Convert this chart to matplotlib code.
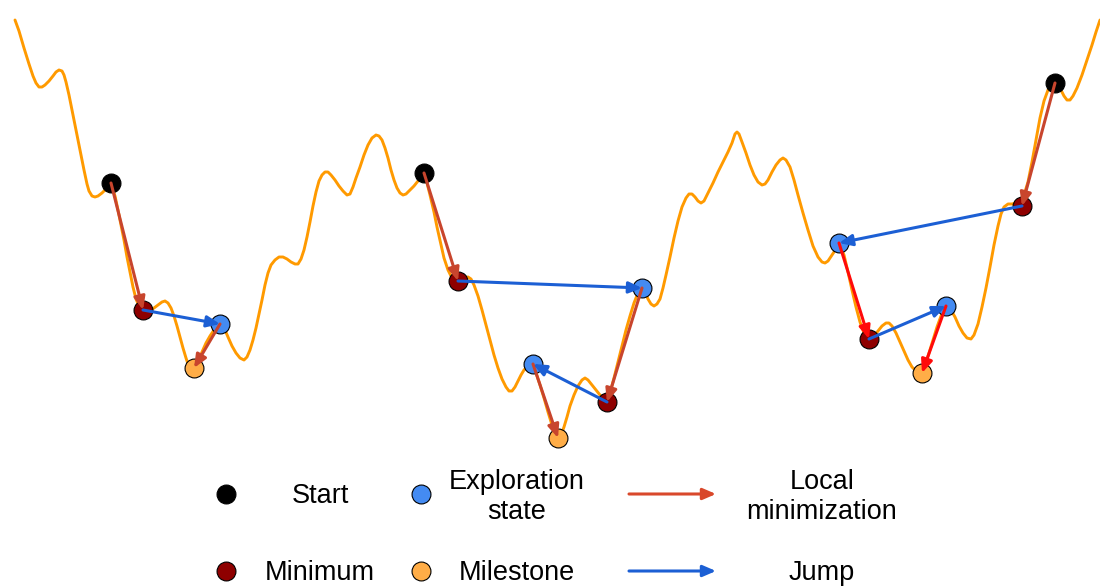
import matplotlib
matplotlib.use('Agg')
import matplotlib.pyplot as plt

plt.rcParams['font.family'] = ['Liberation Sans', 'DejaVu Sans']

# energy landscape (x right, y down, pixel units)
curve_x = [15, 19, 24, 29, 33, 36, 39, 42, 45, 49, 53, 56, 59, 62, 64, 66, 69, 72, 76, 80,
           84, 87, 89, 92, 95, 98, 102, 106, 109, 112, 115, 118, 121, 124, 127, 130, 133,
           136, 139, 142, 146, 150, 154, 158, 162, 165, 168, 171, 174, 177, 180, 183, 186,
           188, 190, 192, 195, 198, 202, 206, 210, 214, 218, 222, 225, 228, 232, 236, 240,
           244, 247, 250, 253, 256, 259, 262, 265, 268, 271, 275, 279, 283, 287, 291, 295,
           298, 301, 304, 307, 310, 313, 316, 319, 322, 325, 328, 331, 335, 339, 343, 347,
           350, 353, 356, 360, 364, 368, 372, 376, 379, 382, 385, 388, 391, 394, 397, 400,
           403, 406, 410, 414, 418, 421, 424, 427, 430, 434, 437, 441, 444, 448, 452, 456,
           460, 464, 468, 471, 474, 478, 482, 486, 490, 494, 498, 502, 506, 509, 512, 515,
           518, 521, 524, 527, 530, 533, 536, 540, 544, 548, 552, 555, 558, 561, 564, 567,
           570, 574, 578, 582, 585, 588, 592, 596, 600, 604, 607, 610, 614, 618, 622, 626,
           630, 634, 638, 642, 645, 648, 651, 654, 657, 660, 663, 666, 670, 674, 678, 682,
           686, 689, 692, 695, 698, 701, 704, 708, 713, 718, 723, 728, 732, 735, 737, 739,
           742, 746, 750, 754, 758, 762, 765, 768, 772, 776, 780, 783, 786, 790, 794, 798,
           803, 808, 813, 818, 822, 825, 828, 832, 836, 840, 844, 848, 852, 856, 860, 864,
           867, 870, 874, 878, 882, 886, 889, 892, 896, 900, 904, 908, 912, 916, 919, 922,
           925, 929, 933, 937, 941, 945, 948, 951, 955, 959, 963, 967, 971, 974, 978, 982,
           986, 990, 994, 998, 1001, 1004, 1008, 1012, 1016, 1020, 1024, 1028, 1032, 1036,
           1040, 1044, 1048, 1052, 1056, 1060, 1064, 1067, 1070, 1073, 1077, 1082, 1087,
           1092, 1096, 1100]
curve_y = [20, 31, 48, 64, 76, 83, 87, 87, 85, 81, 76, 72, 70, 71, 75, 82, 95, 110, 130, 150,
           170, 184, 191, 196, 197, 196, 193, 189, 186, 187, 196, 210, 225, 240, 257, 272, 287,
           299, 306, 310, 311, 310, 308, 305, 302, 301, 303, 308, 316, 326, 337, 348, 358,
           364, 368, 370, 369, 362, 352, 343, 336, 330, 326, 326, 330, 337, 346, 353, 358,
           360, 357, 350, 340, 328, 314, 300, 285, 273, 265, 260, 257, 257, 259, 262, 264,
           264, 259, 250, 237, 222, 206, 192, 181, 175, 172, 172, 175, 180, 186, 191, 195,
           194, 187, 178, 167, 155, 145, 138, 135, 136, 140, 148, 158, 170, 180, 188, 193,
           195, 194, 190, 186, 181, 178, 177, 183, 195, 212, 227, 245, 258, 270, 278, 281,
           280, 278, 277, 279, 285, 296, 310, 325, 340, 355, 368, 379, 387, 391, 391, 387,
           381, 375, 370, 367, 366, 367, 373, 385, 398, 412, 425, 433, 437, 435, 427, 417,
           406, 395, 386, 380, 378, 380, 385, 390, 395, 399, 400, 393, 378, 362, 346, 330,
           316, 303, 293, 289, 292, 299, 304, 306, 304, 299, 288, 275, 257, 238, 221, 207,
           198, 194, 194, 197, 201, 203, 201, 193, 183, 172, 162, 152, 143, 134, 132, 134,
           142, 153, 165, 175, 182, 185, 184, 180, 172, 165, 160, 158, 160, 167, 180, 195,
           213, 230, 246, 257, 262, 263, 261, 255, 249, 245, 255, 272, 290, 307, 322, 333,
           338, 339, 336, 331, 326, 323, 323, 326, 333, 342, 351, 360, 367, 371, 373, 372,
           366, 353, 340, 327, 316, 309, 307, 310, 317, 326, 333, 338, 339, 335, 324, 307,
           288, 267, 245, 226, 214, 207, 204, 204, 203, 201, 195, 182, 162, 140,
           118, 101, 90, 85, 84, 88, 96, 100, 100, 96, 88, 75, 60,
           45, 32, 20]

# states
start_x = [111, 424, 1055]
start_y = [183, 173, 83]
min_x = [143, 458, 607, 869, 1022]
min_y = [310, 281, 402, 339, 206]
expl_x = [220, 533, 642, 839, 946]
expl_y = [324, 364, 288, 243, 306]
mile_x = [194, 558, 922]
mile_y = [368, 438, 373]

# moves: (x0, y0, x1, y1)
local_moves = [(111, 183, 143, 310), (220, 324, 194, 368), (424, 173, 458, 281),
               (533, 364, 558, 438), (642, 288, 607, 402), (1055, 83, 1022, 206)]
local_moves_bright = [(839, 243, 869, 339), (946, 306, 922, 373)]
jumps = [(143, 310, 220, 324), (458, 281, 642, 288), (607, 402, 533, 364),
         (1022, 206, 839, 243), (869, 339, 946, 306)]

c_curve = '#ff9a00'
c_start = 'black'
c_min = '#8e0000'
c_expl = '#448bf2'
c_mile = '#ffad47'
c_local = '#c8452d'
c_local2 = '#ff0a0a'
c_jump = '#1c5fd4'

fig = plt.figure(figsize=(11, 5.86), dpi=100)
ax = fig.add_axes([0, 0, 1, 1])
ax.set_xlim(0, 1100)
ax.set_ylim(586, 0)
ax.axis('off')

ax.plot(curve_x, curve_y, color=c_curve, lw=2.1, zorder=1,
        solid_capstyle='round', solid_joinstyle='round')

ms = 185
ax.scatter(start_x, start_y, s=ms, color=c_start, edgecolor='black', linewidth=0.8, zorder=3)
ax.scatter(min_x, min_y, s=ms, color=c_min, edgecolor='black', linewidth=0.8, zorder=3)
ax.scatter(expl_x, expl_y, s=ms, color=c_expl, edgecolor='black', linewidth=0.8, zorder=3)
ax.scatter(mile_x, mile_y, s=ms, color=c_mile, edgecolor='black', linewidth=0.8, zorder=3)

astyle = '-|>,head_length=0.65,head_width=0.28'


def arrow(x0, y0, x1, y1, col):
    ax.annotate('', xy=(x1, y1), xytext=(x0, y0), zorder=4,
                arrowprops=dict(arrowstyle=astyle, color=col, lw=2.2,
                                mutation_scale=12, shrinkA=0, shrinkB=0))


for m in local_moves:
    arrow(*m, c_local)
for m in local_moves_bright:
    arrow(*m, c_local2)
for m in jumps:
    arrow(*m, c_jump)

# legend
fs = 19.5
row1, row2 = 494, 571
ax.scatter([226], [row1], s=ms, color=c_start, edgecolor='black', linewidth=0.8)
ax.text(320, row1 + 2, 'Start', fontsize=fs, ha='center', va='center')
ax.scatter([421], [row1], s=ms, color=c_expl, edgecolor='black', linewidth=0.8)
ax.text(517, row1 + 3, 'Exploration\nstate', fontsize=fs, ha='center', va='center')
arrow(629, row1, 716, row1, '#d9482b')
ax.text(822, row1 + 3, 'Local\nminimization', fontsize=fs, ha='center', va='center')

ax.scatter([226], [row2], s=ms, color=c_min, edgecolor='black', linewidth=0.8)
ax.text(320, row2 + 2, 'Minimum', fontsize=fs, ha='center', va='center')
ax.scatter([421], [row2], s=ms, color=c_mile, edgecolor='black', linewidth=0.8)
ax.text(517, row2 + 2, 'Milestone', fontsize=fs, ha='center', va='center')
arrow(629, row2, 716, row2, c_jump)
ax.text(822, row2 + 2, 'Jump', fontsize=fs, ha='center', va='center')

fig.savefig('out.png', dpi=100)
